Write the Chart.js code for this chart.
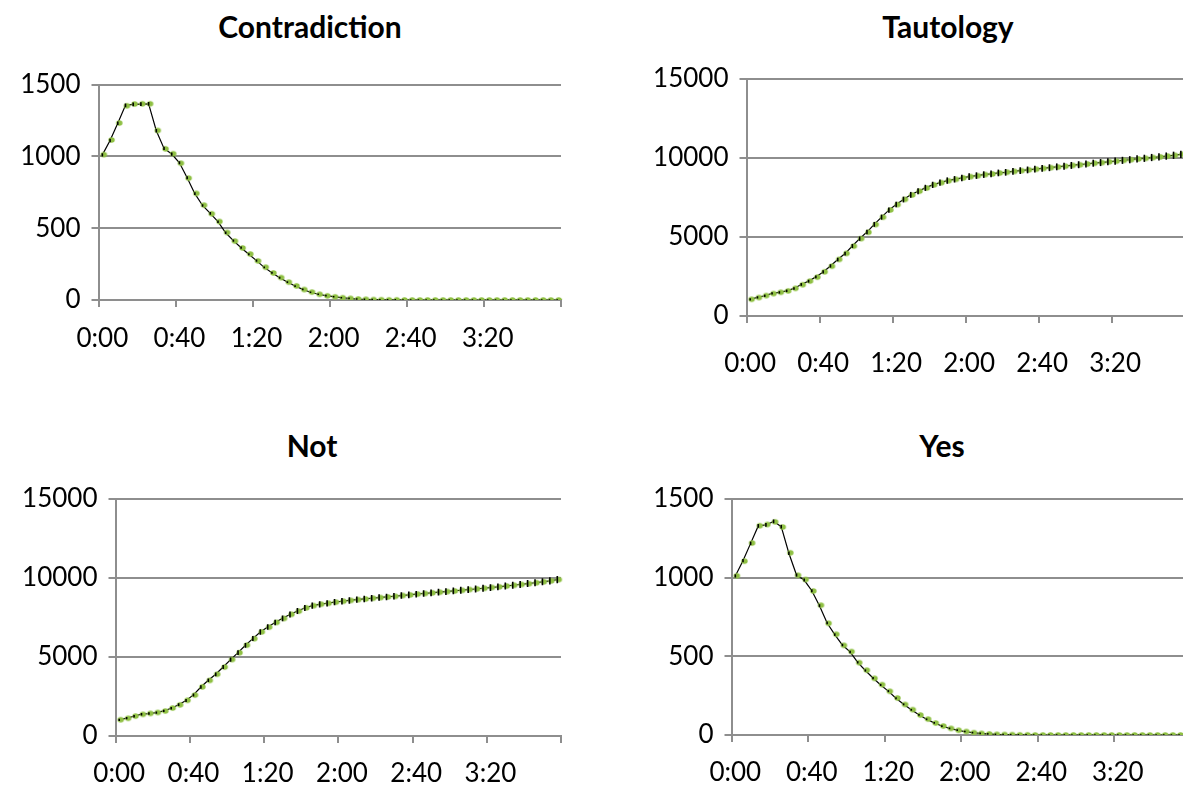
<!DOCTYPE html>
<html>
<head>
<meta charset="utf-8">
<script src="https://cdn.jsdelivr.net/npm/chart.js@4.4.1/dist/chart.umd.min.js"></script>
<style>
html, body { margin: 0; padding: 0; width: 1183px; height: 786px; overflow: hidden; background: #fff; }
canvas { position: absolute; }
.title { position: absolute; width: 400px; text-align: center; font: bold 30px Lato, sans-serif; color: #000; line-height: 36px; }
</style>
</head>
<body>
<div class="title" style="left:110px;top:8px">Contradiction</div>
<div class="title" style="left:748px;top:8px">Tautology</div>
<div class="title" style="left:112px;top:427px">Not</div>
<div class="title" style="left:742px;top:427px">Yes</div>
<canvas id="contradiction"></canvas>
<canvas id="tautology"></canvas>
<canvas id="not"></canvas>
<canvas id="yes"></canvas>
<script>
// time points, every 4 minutes
const timeLabels = [
  '0:00', '0:04', '0:08', '0:12', '0:16', '0:20', '0:24', '0:28', '0:32', '0:36',
  '0:40', '0:44', '0:48', '0:52', '0:56', '1:00', '1:04', '1:08', '1:12', '1:16',
  '1:20', '1:24', '1:28', '1:32', '1:36', '1:40', '1:44', '1:48', '1:52', '1:56',
  '2:00', '2:04', '2:08', '2:12', '2:16', '2:20', '2:24', '2:28', '2:32', '2:36',
  '2:40', '2:44', '2:48', '2:52', '2:56', '3:00', '3:04', '3:08', '3:12', '3:16',
  '3:20', '3:24', '3:28', '3:32', '3:36', '3:40', '3:44', '3:48', '3:52', '3:56'
];

// black line (measured)
const contradictionObs = [1010, 1110, 1230, 1355, 1362, 1364, 1365, 1178, 1055, 1016, 955, 851, 740, 658, 603, 545, 468, 413, 364, 318,
  274, 227, 190, 155, 125, 97, 74, 54, 40, 30, 23, 16, 11, 7, 5, 3, 2, 1, 1, 0,
  0, 0, 0, 0, 0, 0, 0, 0, 0, 0, 0, 0, 0, 0, 0, 0, 0, 0, 0, 0];
// green dots
const contradictionSim = [1012, 1114, 1232, 1352, 1364, 1366, 1366, 1180, 1052, 1018, 952, 848, 742, 660, 600, 546, 470, 410, 362, 320,
  272, 228, 188, 156, 124, 98, 73, 55, 40, 29, 22, 16, 11, 7, 5, 3, 2, 1, 1, 0,
  0, 0, 0, 0, 0, 0, 0, 0, 0, 0, 0, 0, 0, 0, 0, 0, 0, 0, 0, 0];

const tautologyObs = [1050, 1178, 1280, 1430, 1493, 1594, 1745, 1997, 2205, 2476, 2791, 3169, 3573, 3951, 4430, 4896, 5312, 5797, 6257, 6700,
  7057, 7372, 7668, 7895, 8110, 8299, 8443, 8570, 8652, 8740, 8822, 8885, 8948, 8992, 9055, 9093, 9156, 9200, 9245, 9290,
  9340, 9385, 9440, 9480, 9530, 9575, 9620, 9670, 9710, 9760, 9800, 9850, 9890, 9940, 9980, 10030, 10070, 10120, 10170, 10230];
const tautologySim = [1060, 1170, 1290, 1420, 1500, 1590, 1750, 1980, 2210, 2460, 2800, 3150, 3580, 3960, 4420, 4900, 5300, 5790, 6250, 6710,
  7050, 7380, 7660, 7900, 8100, 8300, 8440, 8560, 8650, 8740, 8820, 8880, 8950, 8990, 9050, 9100, 9150, 9200, 9250, 9290,
  9340, 9390, 9430, 9480, 9530, 9570, 9620, 9670, 9710, 9760, 9800, 9850, 9890, 9940, 9980, 10030, 10070, 10120, 10170, 10230];

const notObs = [1020, 1130, 1250, 1380, 1420, 1480, 1590, 1760, 1980, 2250, 2600, 3101, 3525, 3905, 4369, 4835, 5278, 5741, 6165, 6582,
  6899, 7180, 7450, 7690, 7911, 8101, 8253, 8335, 8400, 8470, 8530, 8580, 8630, 8675, 8720, 8760, 8800, 8845, 8890, 8935,
  8975, 9020, 9060, 9100, 9140, 9180, 9225, 9265, 9305, 9350, 9395, 9440, 9490, 9540, 9590, 9645, 9700, 9760, 9820, 9900];
const notSim = [1030, 1120, 1260, 1370, 1430, 1490, 1580, 1770, 1970, 2260, 2590, 3110, 3520, 3910, 4360, 4840, 5270, 5750, 6160, 6590,
  6890, 7190, 7440, 7700, 7900, 8110, 8250, 8340, 8400, 8470, 8530, 8580, 8630, 8670, 8720, 8760, 8800, 8840, 8890, 8930,
  8980, 9020, 9060, 9100, 9140, 9180, 9220, 9270, 9310, 9350, 9400, 9440, 9490, 9540, 9590, 9640, 9700, 9760, 9820, 9900];

const yesObs = [1011, 1108, 1218, 1329, 1335, 1358, 1324, 1155, 1017, 985, 917, 822, 712, 638, 572, 528, 462, 410, 362, 318,
  279, 234, 195, 160, 128, 100, 77, 57, 42, 31, 22, 15, 10, 7, 4, 3, 2, 1, 1, 0,
  0, 0, 0, 0, 0, 0, 0, 0, 0, 0, 0, 0, 0, 0, 0, 0, 0, 0, 0, 0];
const yesSim = [1012, 1105, 1220, 1330, 1338, 1355, 1322, 1158, 1015, 988, 915, 825, 710, 640, 570, 530, 460, 412, 360, 320,
  278, 235, 194, 161, 127, 101, 76, 57, 42, 30, 22, 15, 10, 7, 4, 3, 2, 1, 1, 0,
  0, 0, 0, 0, 0, 0, 0, 0, 0, 0, 0, 0, 0, 0, 0, 0, 0, 0, 0, 0];

const smallTicks = [0, 500, 1000, 1500];
const bigTicks = [0, 5000, 10000, 15000];

Chart.defaults.font.family = 'Lato, sans-serif';
const grey = '#8e8e8e';

// green marker, drawn a little right of the point like the original
function greenDot() {
  const c = document.createElement('canvas');
  c.width = 12;
  c.height = 8;
  const g = c.getContext('2d');
  g.fillStyle = '#8fc043';
  g.beginPath();
  g.ellipse(7.5, 4, 3.2, 2.7, 0, 0, 2 * Math.PI);
  g.fill();
  return c;
}
const dot = greenDot();

function makeChart(id, obs, sim, yTicks, errMax, labelPad, box) {
  const el = document.getElementById(id);
  el.width = box.w;
  el.height = box.h;
  el.style.left = box.left + 'px';
  el.style.top = box.top + 'px';
  const yMax = yTicks[yTicks.length - 1];

  return new Chart(el, {
    type: 'line',
    data: {
      labels: timeLabels,
      datasets: [
        // error ticks on top
        {
          data: obs,
          order: 0,
          showLine: false,
          pointStyle: 'line',
          pointRotation: 90,
          pointRadius: c => 0.8 + errMax * (c.raw || 0) / yMax,
          pointBorderColor: '#000',
          pointBorderWidth: 1.6
        },
        {
          data: sim,
          order: 1,
          showLine: false,
          pointStyle: dot,
          pointRadius: 3
        },
        {
          data: obs,
          order: 2,
          borderColor: '#000',
          borderWidth: 1.2,
          tension: 0,
          pointRadius: 0
        }
      ]
    },
    options: {
      responsive: false,
      animation: false,
      layout: {
        padding: { top: box.plotTop - box.top, right: box.left + box.w - box.plotRight, bottom: 0, left: 0 }
      },
      plugins: { legend: { display: false }, tooltip: { enabled: false } },
      scales: {
        x: {
          offset: true,
          grid: {
            offset: true,
            drawOnChartArea: false,
            lineWidth: 2,
            tickLength: 7,
            color: c => (c.type !== 'tick' || c.index % 10 === 0) ? grey : 'rgba(0,0,0,0)'
          },
          border: { color: grey, width: 2 },
          ticks: {
            autoSkip: false,
            maxRotation: 0,
            minRotation: 0,
            padding: labelPad,
            color: '#000',
            font: { size: 26 },
            callback: function (v, i) { return i % 10 === 0 ? this.getLabelForValue(v) : ''; }
          },
          afterFit: s => { s.height = box.top + box.h - box.plotBottom; }
        },
        y: {
          min: 0,
          max: yMax,
          afterBuildTicks: s => { s.ticks = yTicks.map(v => ({ value: v })); },
          grid: { color: grey, lineWidth: 2, tickLength: 7 },
          border: { color: grey, width: 2 },
          ticks: {
            padding: 11,
            color: '#000',
            font: { size: 26 },
            callback: v => String(v)
          },
          afterFit: s => { s.width = box.plotLeft - box.left; }
        }
      }
    }
  });
}

makeChart('contradiction', contradictionObs, contradictionSim, smallTicks, 1.2, 16,
  { left: 0, top: 0, w: 620, h: 390, plotLeft: 98.5, plotRight: 561, plotTop: 84.5, plotBottom: 300 });
makeChart('tautology', tautologyObs, tautologySim, bigTicks, 4.2, 25,
  { left: 640, top: 0, w: 616, h: 390, plotLeft: 746.5, plotRight: 1184.5, plotTop: 79, plotBottom: 316 });
makeChart('not', notObs, notSim, bigTicks, 4.2, 15,
  { left: 0, top: 396, w: 624, h: 390, plotLeft: 115.5, plotRight: 561, plotTop: 499, plotBottom: 736 });
makeChart('yes', yesObs, yesSim, smallTicks, 1.2, 15,
  { left: 630, top: 396, w: 624, h: 390, plotLeft: 731.5, plotRight: 1190.5, plotTop: 499, plotBottom: 735 });
</script>
</body>
</html>
